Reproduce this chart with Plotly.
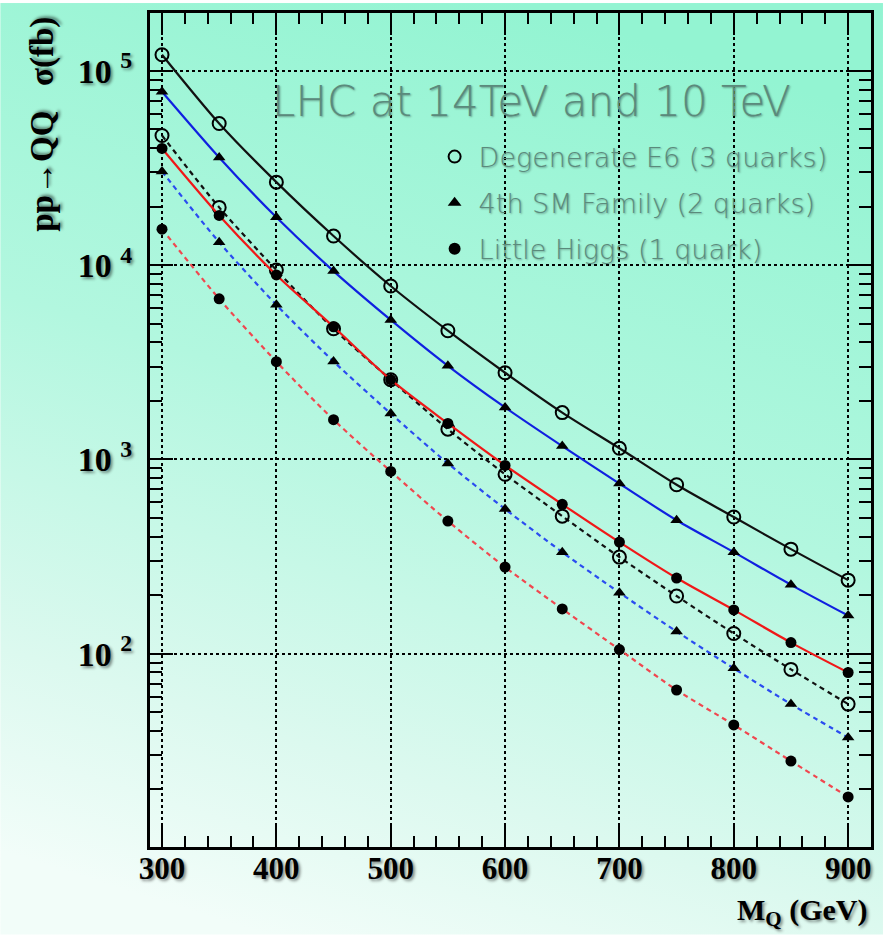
import base64
import plotly.graph_objects as go

# ---------------- data ----------------
mass = [300, 350, 400, 450, 500, 550, 600, 650, 700, 750, 800, 850, 900]

e6_14 = [120800, 53500, 26700, 14100, 7800, 4590, 2790, 1740, 1140, 740, 505, 345, 239]
sm4_14 = [78000, 35800, 17600, 9310, 5220, 3030, 1850, 1170, 750, 486, 333, 226, 157]
lh_14 = [39800, 18000, 8890, 4810, 2570, 1530, 931, 587, 375, 245, 168, 114, 80]

e6_10 = [46400, 19800, 9420, 4700, 2570, 1430, 838, 510, 314, 198, 127, 83, 55]
sm4_10 = [30300, 13100, 6240, 3190, 1720, 953, 555, 333, 206, 130, 84, 55, 37]
lh_10 = [15300, 6700, 3180, 1600, 867, 481, 279, 170, 105, 65, 43, 28, 18.3]

x_ticks = [300, 400, 500, 600, 700, 800, 900]
y_ticks = [100, 1000, 10000, 100000]
y_ticktext = ["10 <sup>2</sup>", "10 <sup>3</sup>", "10 <sup>4</sup>", "10 <sup>5</sup>"]

legend_names = ["Degenerate E6 (3 quarks)", "4th SM Family (2 quarks)", "Little Higgs (1 quark)"]

# ---------------- layout geometry ----------------
W, H = 884, 935
ML, MR, MT, MB = 150, 12, 10, 88
PW, PH = W - ML - MR, H - MT - MB

SERIF = "Liberation Serif, Times New Roman, serif"
SANS = "DejaVu Sans, sans-serif"
SHADOW = "2px 2px 3px rgba(0,0,0,0.45)"
SOFT_SHADOW = "1px 1px 2px rgba(0,0,0,0.35)"
TXT_GREEN = "#5b8a7c"

svg = f"""<svg xmlns='http://www.w3.org/2000/svg' width='{W}' height='{H}' viewBox='0 0 {W} {H}' preserveAspectRatio='none'>
<defs><linearGradient id='g' x1='0.6' y1='0' x2='0.3' y2='1'>
<stop offset='0' stop-color='#93f4d2'/>
<stop offset='0.45' stop-color='#b2f7df'/>
<stop offset='0.8' stop-color='#dcf9ef'/>
<stop offset='1' stop-color='#f2fdf9'/>
</linearGradient></defs>
<rect width='{W}' height='{H}' fill='url(#g)'/></svg>"""
bg_uri = "data:image/svg+xml;base64," + base64.b64encode(svg.encode()).decode()

fig = go.Figure()

def add_curve(y, color, dash, symbol, width=2.2):
    is_open = "open" in symbol
    fig.add_trace(go.Scatter(
        x=mass, y=y, mode="lines+markers",
        line=dict(color=color, width=width, dash=dash, shape="spline", smoothing=0.8),
        marker=dict(symbol=symbol, size=13 if is_open else 11, color="black",
                    line=dict(color="black", width=2 if is_open else 0)),
        showlegend=False, cliponaxis=False,
    ))

DASH = "5px,4px"
add_curve(lh_10, "#f0474f", DASH, "circle")
add_curve(sm4_10, "#2a4cf0", DASH, "triangle-up")
add_curve(e6_10, "#111111", DASH, "circle-open")
add_curve(lh_14, "#f01818", "solid", "circle")
add_curve(sm4_14, "#1020e0", "solid", "triangle-up")
add_curve(e6_14, "#111111", "solid", "circle-open")

# legend-only traces (markers only)
for i, (name, sym) in enumerate(zip(legend_names, ["circle-open", "triangle-up", "circle"])):
    fig.add_trace(go.Scatter(
        x=[None], y=[None], mode="markers", name=name, legendgroup=f"g{i}",
        marker=dict(symbol=sym, size=12, color="black",
                    line=dict(color="black", width=2 if sym == "circle-open" else 0)),
        showlegend=True,
    ))

minor_y = [m * 10 ** e for e in range(1, 6) for m in range(2, 10)]

fig.update_layout(
    width=W, height=H,
    margin=dict(l=ML, r=MR, t=MT, b=MB, pad=0),
    paper_bgcolor="rgba(0,0,0,0)",
    plot_bgcolor="rgba(0,0,0,0)",
    images=[dict(source=bg_uri, xref="paper", yref="paper",
                 x=-ML / PW, y=1 + MT / PH, sizex=W / PW, sizey=H / PH,
                 xanchor="left", yanchor="top", sizing="stretch", layer="below")],
    showlegend=True,
    legend=dict(x=(431 - ML) / PW, y=1 - (130 - MT) / PH, xanchor="left", yanchor="top",
                bgcolor="rgba(0,0,0,0)", borderwidth=0,
                font=dict(family=SANS, size=27, color=TXT_GREEN, weight=200, shadow=SOFT_SHADOW),
                traceorder="grouped", tracegroupgap=8, itemwidth=38),
    xaxis=dict(
        range=[289.5, 920], tickvals=x_ticks, ticks="inside", ticklen=22, tickwidth=2,
        tickcolor="black", showline=True, linecolor="black", linewidth=3, mirror="allticks",
        showgrid=True, gridcolor="black", griddash="dot", gridwidth=1.5, zeroline=False,
        tickfont=dict(family=SERIF, size=31, color="black", weight="bold", shadow=SHADOW),
        ticklabelstandoff=-8,
        minor=dict(dtick=20, tick0=300, ticks="inside", ticklen=11, tickwidth=1.5,
                   tickcolor="black", showgrid=False),
    ),
    yaxis=dict(
        type="log", range=[1.005, 5.297], tickvals=y_ticks, ticktext=y_ticktext,
        ticks="inside", ticklen=23, tickwidth=2, tickcolor="black",
        showline=True, linecolor="black", linewidth=3, mirror="allticks",
        showgrid=True, gridcolor="black", griddash="dot", gridwidth=1.5, zeroline=False,
        tickfont=dict(family=SERIF, size=34, color="black", weight="bold", shadow=SHADOW),
        ticklabelstandoff=8,
        minor=dict(tickvals=minor_y, ticks="inside", ticklen=12, tickwidth=1.5,
                   tickcolor="black", showgrid=False),
    ),
    annotations=[
        dict(text="LHC at 14TeV and 10 TeV", xref="paper", yref="paper",
             x=(270 - ML) / PW, y=1 - (99 - MT) / PH, xanchor="left", yanchor="middle",
             showarrow=False,
             font=dict(family=SANS, size=42, color=TXT_GREEN, weight=200, shadow=SOFT_SHADOW)),
        dict(text="pp\u2192QQ   \u03c3(fb)", xref="paper", yref="paper",
             x=(42 - ML) / PW, y=1 - (122 - MT) / PH, xanchor="center", yanchor="middle",
             textangle=-90, showarrow=False,
             font=dict(family=SERIF, size=33, color="black", weight="bold", shadow=SHADOW)),
        dict(text="M<sub>Q</sub> (GeV)", xref="paper", yref="paper",
             x=(870 - ML) / PW, y=-(912 - MT - PH) / PH, xanchor="right", yanchor="middle",
             showarrow=False,
             font=dict(family=SERIF, size=30, color="black", weight="bold", shadow=SHADOW)),
    ],
)

fig.write_html("out.html", config={"displayModeBar": False},
               post_script="document.body.style.margin='0';document.body.style.overflow='hidden';")
